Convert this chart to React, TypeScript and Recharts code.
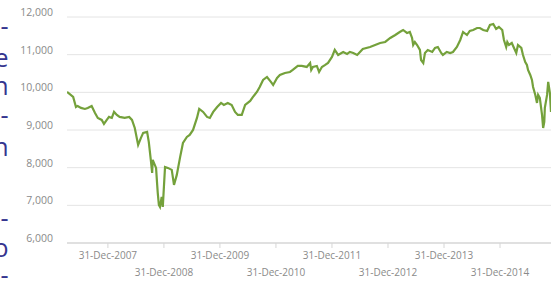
import React from 'react';
import { LineChart, Line, XAxis, YAxis, CartesianGrid } from 'recharts';

// decimal years (31-Dec-2007 = 2008.0)
const years = [
  2007.27, 2007.38, 2007.43, 2007.46, 2007.52, 2007.59, 2007.64, 2007.71, 2007.77, 2007.82,
  2007.89, 2007.93, 2007.98, 2008.02, 2008.07, 2008.11, 2008.16, 2008.21, 2008.30, 2008.38,
  2008.43, 2008.48, 2008.54, 2008.59, 2008.63, 2008.70, 2008.73, 2008.77, 2008.79, 2008.80,
  2008.86, 2008.88, 2008.89, 2008.91, 2008.93, 2008.96, 2008.98, 2009.00, 2009.02, 2009.07,
  2009.14, 2009.18, 2009.23, 2009.29, 2009.34, 2009.41, 2009.46, 2009.52, 2009.59, 2009.63,
  2009.70, 2009.77, 2009.82, 2009.88, 2009.95, 2010.02, 2010.07, 2010.14, 2010.21, 2010.27,
  2010.32, 2010.39, 2010.45, 2010.54, 2010.59, 2010.66, 2010.71, 2010.77, 2010.84, 2010.91,
  2010.95, 2011.02, 2011.07, 2011.16, 2011.25, 2011.30, 2011.39, 2011.46, 2011.55, 2011.61,
  2011.63, 2011.66, 2011.73, 2011.77, 2011.82, 2011.88, 2011.93, 2012.00, 2012.05, 2012.11,
  2012.20, 2012.27, 2012.32, 2012.38, 2012.45, 2012.50, 2012.55, 2012.68, 2012.77, 2012.86,
  2012.95, 2013.04, 2013.13, 2013.21, 2013.27, 2013.34, 2013.39, 2013.43, 2013.45, 2013.48,
  2013.52, 2013.57, 2013.59, 2013.63, 2013.66, 2013.71, 2013.79, 2013.84, 2013.89, 2013.95,
  2013.98, 2014.05, 2014.11, 2014.16, 2014.23, 2014.29, 2014.34, 2014.41, 2014.46, 2014.52,
  2014.59, 2014.64, 2014.70, 2014.77, 2014.82, 2014.88, 2014.93, 2014.98, 2015.04, 2015.07,
  2015.11, 2015.13, 2015.16, 2015.21, 2015.25, 2015.29, 2015.32, 2015.38, 2015.41, 2015.45,
  2015.48, 2015.50, 2015.54, 2015.57, 2015.59, 2015.63, 2015.66, 2015.68, 2015.71, 2015.75,
  2015.77, 2015.79, 2015.80, 2015.84, 2015.86, 2015.89, 2015.91,
];

const values = [
  10010, 9878, 9612, 9639, 9586, 9559, 9586, 9639, 9453, 9320,
  9267, 9161, 9267, 9347, 9320, 9480, 9400, 9347, 9320, 9347,
  9267, 9055, 8604, 8790, 8923, 8949, 8684, 8153, 7861, 8206,
  7994, 7543, 7331, 7012, 6959, 7225, 6959, 7490, 8020, 7994,
  7941, 7543, 7808, 8286, 8657, 8816, 8869, 9002, 9320, 9559,
  9480, 9347, 9320, 9480, 9612, 9718, 9665, 9718, 9665, 9480,
  9400, 9400, 9665, 9771, 9878, 10010, 10143, 10329, 10408, 10276,
  10196, 10382, 10461, 10514, 10541, 10594, 10700, 10700, 10674, 10780,
  10594, 10674, 10700, 10541, 10674, 10727, 10780, 10939, 11125, 10992,
  11072, 11018, 11072, 11045, 10992, 11072, 11151, 11204, 11257, 11310,
  11337, 11443, 11522, 11602, 11655, 11576, 11602, 11443, 11257, 11337,
  11257, 11125, 10859, 10780, 11045, 11125, 11072, 11178, 11204, 11045,
  10992, 11072, 11045, 11072, 11204, 11390, 11602, 11522, 11629, 11655,
  11708, 11708, 11655, 11629, 11788, 11814, 11682, 11735, 11655, 11390,
  11204, 11337, 11257, 11310, 11178, 11045, 11257, 11178, 10992, 10806,
  10727, 10594, 10461, 10329, 10143, 9931, 9718, 9931, 9851, 9400,
  9055, 9214, 9586, 9931, 10276, 9984, 9480,
];

const tickYears = [2008, 2009, 2010, 2011, 2012, 2013, 2014, 2015];
const tickLabels = [
  '31-Dec-2007', '31-Dec-2008', '31-Dec-2009', '31-Dec-2010',
  '31-Dec-2011', '31-Dec-2012', '31-Dec-2013', '31-Dec-2014',
];
const yTicks = [6000, 7000, 8000, 9000, 10000, 11000, 12000];

// clipped text fragments at the page's left edge
const edgeGlyphs = ['-', 'e', 'n', '-', 'n', '-', 'o', '-'];
const edgeBaselines = [35, 66.5, 95, 124, 156, 227, 256.5, 284];

const data = years.map((t, i) => ({ t, v: values[i] }));

const LABEL = '#8a8a8a';
const FONT = '"Open Sans", sans-serif';

const XTick = (props: any) => {
  const { x, y, index } = props;
  const label = tickLabels[tickYears.indexOf(props.payload.value)] ?? '';
  const dy = index % 2 === 0 ? 8.5 : 26;
  return (
    <text x={x} y={y + dy} textAnchor="middle" fill={LABEL} fontSize={10} fontFamily={FONT}>
      {label}
    </text>
  );
};

const YTick = (props: any) => {
  const { x, y, payload } = props;
  return (
    <text x={x} y={y - 1} textAnchor="end" fill={LABEL} fontSize={10.5} fontFamily={FONT}>
      {Number(payload.value).toLocaleString('en-US')}
    </text>
  );
};

export default function App() {
  return (
    <div style={{ position: 'absolute', left: 0, top: 0, width: 556, height: 286, background: '#fff' }}>
      <LineChart width={556} height={286} data={data} margin={{ top: 17, right: 5, bottom: 0, left: 0 }}>
        <CartesianGrid vertical={false} stroke="#e4e4e4" />
        <XAxis
          dataKey="t"
          type="number"
          domain={[2007.27, 2015.91]}
          ticks={tickYears}
          interval={0}
          height={43}
          tick={<XTick />}
          tickSize={5}
          tickMargin={2}
          tickLine={{ stroke: '#d6d6d6' }}
          axisLine={{ stroke: '#cfcfcf' }}
          allowDataOverflow
        />
        <YAxis
          type="number"
          domain={[6000, 12000]}
          ticks={yTicks}
          interval={0}
          width={67}
          tick={<YTick />}
          tickLine={false}
          axisLine={false}
          tickSize={6}
          tickMargin={8}
        />
        <Line
          type="linear"
          dataKey="v"
          stroke="#74a13b"
          strokeWidth={2.2}
          dot={false}
          isAnimationActive={false}
        />
      </LineChart>
      <svg width={20} height={286} style={{ position: 'absolute', left: 0, top: 0 }}>
        {edgeGlyphs.map((g, i) => (
          <text key={i} x={8.5} y={edgeBaselines[i]} textAnchor="end" fill="#35358f"
            fontSize={25} fontFamily={FONT}>
            {g}
          </text>
        ))}
      </svg>
    </div>
  );
}
